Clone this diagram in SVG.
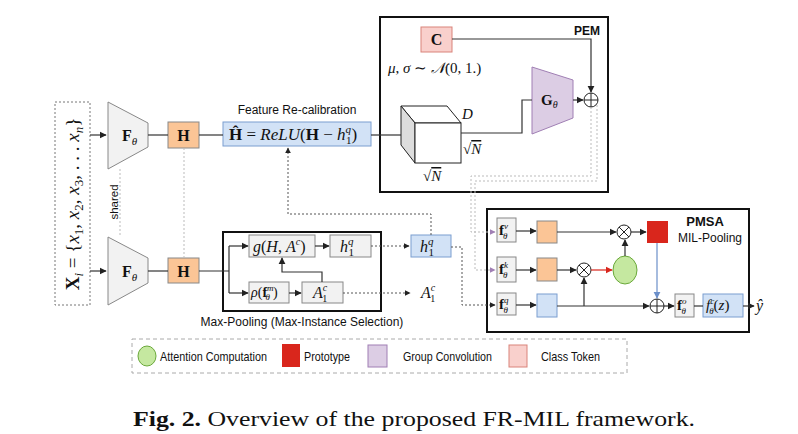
<svg xmlns="http://www.w3.org/2000/svg" width="798" height="434" viewBox="0 0 798 434">
<defs>
<marker id="ar" viewBox="0 0 10 10" refX="9" refY="5" markerWidth="6" markerHeight="6" orient="auto"><path d="M0,0 L10,5 L0,10 z" fill="#222"/></marker>
<marker id="arr" viewBox="0 0 10 10" refX="9" refY="5" markerWidth="6" markerHeight="6" orient="auto"><path d="M0,0 L10,5 L0,10 z" fill="#d9261c"/></marker>
<marker id="arb" viewBox="0 0 10 10" refX="9" refY="5" markerWidth="6" markerHeight="6" orient="auto"><path d="M0,0 L10,5 L0,10 z" fill="#6b8fc9"/></marker>
<marker id="arp" viewBox="0 0 10 10" refX="9" refY="5" markerWidth="6" markerHeight="6" orient="auto"><path d="M0,0 L10,5 L0,10 z" fill="#a07fb4"/></marker>
<style>
.box{fill:#f2f2f2;stroke:#888;stroke-width:1}
.org{fill:#fbc596;stroke:#888;stroke-width:1}
.blu{fill:#d2e2f6;stroke:#7b9ed0;stroke-width:1}
.ln{stroke:#333;stroke-width:1.2;fill:none}
.dot{stroke:#555;stroke-width:1;stroke-dasharray:2 2;fill:none}
.ldot{stroke:#bbb;stroke-width:1;stroke-dasharray:2 2;fill:none}
.frame{fill:none;stroke:#111;stroke-width:2}
.m{font-family:"Liberation Serif","Times New Roman",serif;font-style:italic;fill:#111}
.r{font-family:"Liberation Serif","Times New Roman",serif;font-style:normal;fill:#111}
.b{font-family:"Liberation Serif","Times New Roman",serif;font-weight:bold;font-style:normal;fill:#111}
.s{font-family:"Liberation Sans",Arial,sans-serif;fill:#111}
.circ{fill:#fff;stroke:#222;stroke-width:1}
</style>
</defs>
<rect width="798" height="434" fill="#fff"/>

<!-- input -->
<g id="input">
<rect x="55" y="102" width="35" height="203" fill="none" stroke="#777" stroke-dasharray="2 2"/>
<text transform="translate(79,204) rotate(-90)" text-anchor="middle" font-size="19" class="m"><tspan class="b">X</tspan><tspan font-size="13" dy="4">i</tspan><tspan class="r" dy="-4"> = {</tspan>x<tspan font-size="13" dy="4" class="r">1</tspan><tspan class="r" dy="-4">, </tspan>x<tspan font-size="13" dy="4" class="r">2</tspan><tspan class="r" dy="-4">, </tspan>x<tspan font-size="13" dy="4" class="r">3</tspan><tspan class="r" dy="-4">, . . . </tspan>x<tspan font-size="13" dy="4">n</tspan><tspan class="r" dy="-4">}</tspan></text>
</g>

<!-- encoders -->
<g id="F_top">
<path d="M108,102 L148,123 L148,147 L108,169 Z" fill="#f2f2f2" stroke="#888"/>
<text x="122" y="141" font-size="16" class="b">F<tspan class="m" font-weight="normal" font-size="11" dy="4">θ</tspan></text>
</g>
<g id="F_bot">
<path d="M108,237 L148,258 L148,283 L108,305 Z" fill="#f2f2f2" stroke="#888"/>
<text x="122" y="277" font-size="16" class="b">F<tspan class="m" font-weight="normal" font-size="11" dy="4">θ</tspan></text>
</g>
<g id="shared">
<text transform="translate(118,202) rotate(-90)" text-anchor="middle" font-size="11.5" class="s">shared</text>
</g>
<g id="H_top">
<rect x="168" y="122" width="31" height="26" class="org"/>
<text x="183.5" y="141" text-anchor="middle" font-size="16" class="b">H</text>
</g>
<g id="H_bot">
<rect x="168" y="258" width="31" height="25" class="org"/>
<text x="183.5" y="277" text-anchor="middle" font-size="16" class="b">H</text>
</g>

<!-- feature recalibration -->
<g id="Hhat">
<text x="297" y="114" text-anchor="middle" font-size="12" class="s">Feature Re-calibration</text>
<rect x="223" y="122" width="148" height="24" class="blu"/>
<text x="229" y="140" font-size="17" class="m"><tspan class="b">Ĥ</tspan><tspan class="r"> = </tspan>ReLU<tspan class="r">(</tspan><tspan class="b">H</tspan><tspan class="r"> − </tspan>h<tspan font-size="11" dy="-7">q</tspan><tspan font-size="11" class="r" dx="-5" dy="11">1</tspan><tspan class="r" dy="-4">)</tspan></text>
</g>

<!-- PEM -->
<g id="PEM">
<rect x="380" y="17" width="228" height="175" class="frame"/>
<text x="600" y="35" text-anchor="end" font-size="12" font-weight="bold" class="s">PEM</text>
</g>
<g id="C">
<rect x="421" y="27" width="31" height="25" fill="#f9d0cc" stroke="#d9837a"/>
<text x="436.5" y="45" text-anchor="middle" font-size="16" class="b">C</text>
</g>
<text x="388" y="73" font-size="15" class="m">μ<tspan class="r">, </tspan>σ<tspan class="r"> ∼ </tspan>𝒩<tspan class="r">(0, 1.)</tspan></text>
<g id="cube">
<path d="M401,106 L447,106 L461,123 L415,123 Z" fill="#fff" stroke="#222"/>
<path d="M401,106 L415,123 L415,163 L401,145 Z" fill="#ddd" stroke="#222"/>
<rect x="415" y="123" width="46" height="40" fill="#fff" stroke="#222"/>
<text x="462" y="119" font-size="15" class="m">D</text>
<text x="463" y="154" font-size="15" class="r">√<tspan class="m" style="text-decoration:overline">N</tspan></text>
<text x="423" y="181" font-size="15" class="r">√<tspan class="m" style="text-decoration:overline">N</tspan></text>
</g>
<g id="G">
<path d="M532,67 L573,80 L573,118 L532,134 Z" fill="#dccde4" stroke="#a07fb4"/>
<text x="541" y="105" font-size="15" class="b">G<tspan class="m" font-weight="normal" font-size="10" dy="3">θ</tspan></text>
</g>
<g id="plus_pem">
<circle cx="591" cy="100" r="7" class="circ"/>
<path d="M584,100 H598 M591,93 V107" stroke="#222" stroke-width="1"/>
</g>

<!-- max pooling -->
<g id="maxpool">
<rect x="223" y="232" width="158" height="79" class="frame"/>
<text x="302" y="326" text-anchor="middle" font-size="12" class="s">Max-Pooling (Max-Instance Selection)</text>
</g>
<g id="g_box">
<rect x="249" y="235" width="66" height="22" class="box"/>
<text x="253" y="252" font-size="16" class="m">g<tspan class="r">(</tspan>H<tspan class="r">, </tspan>A<tspan font-size="10" dy="-7">c</tspan><tspan class="r" dy="7">)</tspan></text>
</g>
<g id="h_in">
<rect x="330" y="235" width="41" height="22" class="box"/>
<text x="340" y="252" font-size="16" class="m">h<tspan font-size="11" dy="-7">q</tspan><tspan font-size="11" class="r" dx="-5" dy="11">1</tspan></text>
</g>
<g id="rho_box">
<rect x="249" y="282" width="40" height="21" class="box"/>
<text x="251" y="297" font-size="14" class="m">ρ<tspan class="r">(</tspan><tspan class="b">f</tspan><tspan font-size="9" dy="-6">m</tspan><tspan font-size="9" dx="-8" dy="9">θ</tspan><tspan class="r" dx="3" dy="-3">)</tspan></text>
</g>
<g id="A_box">
<rect x="302" y="282" width="41" height="21" class="box"/>
<text x="313" y="298" font-size="16" class="m">A<tspan font-size="10" dy="-7">c</tspan><tspan font-size="10" class="r" dx="-5" dy="11">1</tspan></text>
</g>
<g id="h_out">
<rect x="411" y="235" width="40" height="22" class="blu"/>
<text x="420" y="252" font-size="16" class="m">h<tspan font-size="11" dy="-7">q</tspan><tspan font-size="11" class="r" dx="-5" dy="11">1</tspan></text>
</g>
<g id="A_out">
<text x="421" y="298" font-size="16" class="m">A<tspan font-size="10" dy="-7">c</tspan><tspan font-size="10" class="r" dx="-5" dy="11">1</tspan></text>
</g>

<!-- PMSA -->
<g id="PMSA">
<rect x="487" y="209" width="262" height="123" class="frame"/>
<text x="705" y="226" text-anchor="middle" font-size="13" font-weight="bold" class="s">PMSA</text>
<text x="710" y="242" text-anchor="middle" font-size="12" class="s">MIL-Pooling</text>
</g>
<g id="fv"><rect x="497" y="218" width="19" height="24" class="box"/>
<text x="499" y="235" font-size="15" class="b">f<tspan class="m" font-weight="normal" font-size="9" dy="-6">v</tspan><tspan class="m" font-weight="normal" font-size="9" dx="-5" dy="10">θ</tspan></text></g>
<g id="fk"><rect x="497" y="257" width="19" height="25" class="box"/>
<text x="499" y="274" font-size="15" class="b">f<tspan class="m" font-weight="normal" font-size="9" dy="-6">k</tspan><tspan class="m" font-weight="normal" font-size="9" dx="-5" dy="10">θ</tspan></text></g>
<g id="fq"><rect x="497" y="293" width="19" height="22" class="box"/>
<text x="499" y="309" font-size="15" class="b">f<tspan class="m" font-weight="normal" font-size="9" dy="-6">q</tspan><tspan class="m" font-weight="normal" font-size="9" dx="-5" dy="10">θ</tspan></text></g>
<g id="v_sq"><rect x="537" y="221" width="20" height="22" class="org"/></g>
<g id="k_sq"><rect x="537" y="258" width="20" height="23" class="org"/></g>
<g id="q_sq"><rect x="537" y="294" width="20" height="23" class="blu"/></g>
<g id="mul_top"><circle cx="624" cy="232" r="7" class="circ"/><path d="M619,227 L629,237 M629,227 L619,237" stroke="#222"/></g>
<g id="mul_mid"><circle cx="584" cy="270" r="7" class="circ"/><path d="M579,265 L589,275 M589,265 L579,275" stroke="#222"/></g>
<g id="attn"><ellipse cx="625" cy="270" rx="12" ry="14" fill="#c5e8a0" stroke="#6aa83a"/></g>
<g id="proto"><rect x="647" y="221" width="21" height="22" fill="#d9261c"/></g>
<g id="plus_pmsa"><circle cx="657" cy="306" r="7" class="circ"/><path d="M650,306 H664 M657,299 V313" stroke="#222"/></g>
<g id="fo"><rect x="675" y="294" width="19" height="23" class="box"/>
<text x="677" y="310" font-size="15" class="b">f<tspan class="m" font-weight="normal" font-size="9" dy="-6">o</tspan><tspan class="m" font-weight="normal" font-size="9" dx="-5" dy="10">θ</tspan></text></g>
<g id="fc"><rect x="703" y="294" width="40" height="23" class="blu"/>
<text x="706" y="310" font-size="15" class="m">f<tspan font-size="9" dy="-6">c</tspan><tspan font-size="9" dx="-5" dy="10">θ</tspan><tspan class="r" dy="-4">(</tspan>z<tspan class="r">)</tspan></text></g>
<g id="yhat"><text x="756" y="311" font-size="16" class="m">ŷ</text></g>

<!-- connectors -->
<g id="connectors">
<path d="M90,135 H106" class="ln" marker-end="url(#ar)"/>
<path d="M90,271 H106" class="ln" marker-end="url(#ar)"/>
<path d="M120,169 V237" class="ldot"/>
<path d="M184,148 V258" class="ldot"/>
<path d="M148,135 H168" class="ln"/>
<path d="M148,271 H168" class="ln"/>
<path d="M199,135 H223" class="ln"/>
<path d="M371,135 H401" class="ln"/>
<path d="M461,133 H522 V100 H532" class="ln"/>
<path d="M573,100 H583" class="ln" marker-end="url(#ar)"/>
<path d="M452,39 H591 V92" class="ln" marker-end="url(#ar)"/>
<path d="M199,271 H229 M229,246 V293" class="ln"/>
<path d="M229,246 H248" class="ln" marker-end="url(#ar)"/>
<path d="M229,293 H248" class="ln" marker-end="url(#ar)"/>
<path d="M315,246 H329" class="ln" marker-end="url(#ar)"/>
<path d="M289,293 H301" class="ln" marker-end="url(#ar)"/>
<path d="M322,282 V272 H282 V258" class="ln" marker-end="url(#ar)"/>
<path d="M371,246 H409" class="dot" marker-end="url(#ar)"/>
<path d="M343,293 H410" class="dot" marker-end="url(#ar)"/>
<path d="M431,235 V214 H288 V148" class="dot" marker-end="url(#ar)"/>
<path d="M451,247 H462 V305 H495" class="dot" marker-end="url(#ar)"/>
<path d="M591,107 V176 H471 V232 H495" class="ldot" marker-end="url(#arp)"/>
<path d="M597,105 V181 H475 V270 H495" class="ldot" marker-end="url(#arp)"/>
<path d="M516,231 H536" class="ln" marker-end="url(#ar)"/>
<path d="M516,270 H536" class="ln" marker-end="url(#ar)"/>
<path d="M516,305 H536" class="ln" marker-end="url(#ar)"/>
<path d="M557,232 H616" class="ln" marker-end="url(#ar)"/>
<path d="M631,232 H646" class="ln" marker-end="url(#ar)"/>
<path d="M557,270 H576" class="ln" marker-end="url(#ar)"/>
<path d="M591,270 H612" stroke="#d9261c" stroke-width="1.2" marker-end="url(#arr)"/>
<path d="M625,256 V240" class="ln" marker-end="url(#ar)"/>
<path d="M557,306 H649" class="ln" marker-end="url(#ar)"/>
<path d="M584,306 V278" class="ln" marker-end="url(#ar)"/>
<path d="M657,243 V298" stroke="#6b8fc9" stroke-width="1.2" marker-end="url(#arb)"/>
<path d="M664,306 H674" class="ln" marker-end="url(#ar)"/>
<path d="M694,306 H703" class="ln"/>
<path d="M743,306 H754" class="ln" marker-end="url(#ar)"/>
</g>

<!-- legend -->
<g id="legend">
<rect x="132" y="339" width="495" height="34" fill="none" stroke="#aaa" stroke-dasharray="4 3"/>
<ellipse cx="147" cy="356" rx="9" ry="10" fill="#c5e8a0" stroke="#6aa83a"/>
<text x="160" y="360.5" font-size="13.5" class="s" textLength="107" lengthAdjust="spacingAndGlyphs">Attention Computation</text>
<rect x="282" y="344" width="18" height="23" fill="#d9261c"/>
<text x="304" y="360.5" font-size="13.5" class="s" textLength="46" lengthAdjust="spacingAndGlyphs">Prototype</text>
<rect x="368" y="345" width="19" height="22" fill="#dccde4" stroke="#a07fb4"/>
<text x="403" y="360.5" font-size="13.5" class="s" textLength="89" lengthAdjust="spacingAndGlyphs">Group Convolution</text>
<rect x="509" y="345" width="18" height="22" fill="#f9d0cc" stroke="#d9837a"/>
<text x="541" y="361" font-size="13.5" class="s" textLength="59" lengthAdjust="spacingAndGlyphs">Class Token</text>
</g>

<!-- caption -->
<g id="caption">
<text x="133" y="426" font-size="21" class="r" textLength="562" lengthAdjust="spacingAndGlyphs"><tspan class="b">Fig. 2.</tspan> Overview of the proposed FR-MIL framework.</text>
</g>
</svg>
